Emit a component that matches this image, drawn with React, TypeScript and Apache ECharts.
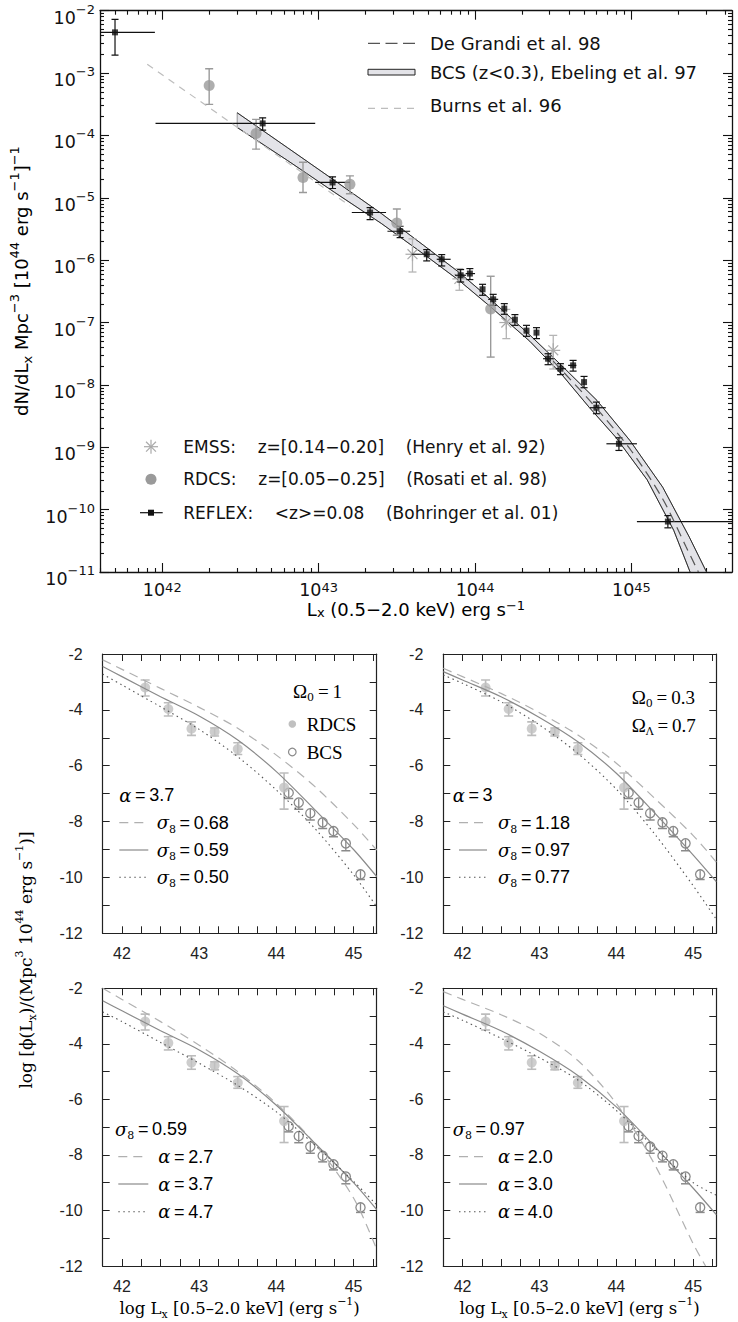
import React, { useEffect, useRef } from "react";
import * as echarts from "echarts";

// ================= TOP PANEL DATA (log10 Lx [erg/s], log10 dN/dLx) =================
const reflexLogL = [41.698, 42.642, 43.089, 43.329, 43.521, 43.691, 43.787, 43.908, 43.967, 44.048, 44.116, 44.187, 44.255, 44.329, 44.393, 44.467, 44.546, 44.627, 44.697, 44.776, 44.92, 45.233];
const reflexLogN = [-2.347, -3.807, -4.754, -5.236, -5.536, -5.905, -5.986, -6.242, -6.215, -6.467, -6.628, -6.777, -6.954, -7.13, -7.162, -7.58, -7.74, -7.687, -7.955, -8.366, -8.944, -10.191];
const reflexErrHi = [-2.138, -3.717, -4.664, -5.156, -5.456, -5.83, -5.911, -6.151, -6.135, -6.387, -6.548, -6.697, -6.873, -7.045, -7.082, -7.5, -7.66, -7.607, -7.864, -8.276, -8.848, -10.095];
const reflexErrLo = [-2.711, -3.915, -4.851, -5.349, -5.637, -6.012, -6.093, -6.35, -6.311, -6.563, -6.724, -6.868, -7.045, -7.221, -7.258, -7.676, -7.836, -7.779, -8.045, -8.462, -9.051, -10.292];
const reflexBinLo = [41.605, 41.957, 42.978, 43.212, 43.44, 43.595, 43.755, 43.872, 43.94, null, 44.084, null, null, null, null, 44.435, 44.516, 44.595, null, 44.734, 44.84, 45.035];
const reflexBinHi = [41.953, 42.978, 43.2, 43.431, 43.585, 43.744, 43.844, 43.942, 44.0, null, 44.148, null, null, null, null, 44.503, 44.58, 44.648, null, 44.836, 45.035, 45.643];

const rdcsLogL = [42.3, 42.6, 42.9, 43.2, 43.5, 44.1];
const rdcsLogN = [-3.2, -3.968, -4.674, -4.782, -5.403, -6.783];
const rdcsErrHi = [-2.93, -3.743, -4.43, -4.648, -5.18, -6.258];
const rdcsErrLo = [-3.502, -4.22, -4.915, -4.935, -5.6, -7.554];

const emssLogL = [43.6, 43.9, 44.2, 44.5];
const emssLogN = [-5.905, -6.3, -7.0, -7.446];
const emssErrHi = [-5.66, -6.135, -6.79, -7.206];
const emssErrLo = [-6.19, -6.483, -7.258, -7.745];

const bcsBandUpperL = [42.479, 42.8, 43.1, 43.4, 43.67, 43.9, 44.1, 44.35, 44.55, 44.78, 44.99, 45.2, 45.37, 45.48];
const bcsBandUpperN = [-3.636, -4.195, -4.72, -5.25, -5.76, -6.2, -6.63, -7.2, -7.68, -8.25, -8.89, -9.64, -10.44, -11.0];
const bcsBandLowerL = [42.479, 42.8, 43.1, 43.4, 43.67, 43.9, 44.1, 44.35, 44.55, 44.73, 44.9, 45.1, 45.27, 45.375];
const bcsBandLowerN = [-3.872, -4.4, -4.91, -5.41, -5.9, -6.33, -6.75, -7.3, -7.82, -8.36, -8.84, -9.52, -10.33, -11.0];

const deGrandiL = [44.5, 44.75, 45.0, 45.2, 45.35, 45.428];
const deGrandiN = [-7.62, -8.3, -9.06, -9.83, -10.6, -11.0];

const burnsL = [41.904, 42.84, 43.2];
const burnsN = [-2.86, -4.5, -5.13];

const topXMajor = [42, 43, 44, 45];

// ================= BOTTOM PANELS DATA (log10 Lx, log10 phi) =================
const panelLogL = [41.75, 42, 42.5, 43, 43.5, 44, 44.5, 45, 45.3];
const om1Sigma068 = [-2.21, -2.55, -3.23, -3.91, -4.66, -5.62, -6.75, -8.1, -9.02];
const om1Sigma059Alpha37 = [-2.45, -2.81, -3.53, -4.22, -5.08, -6.21, -7.58, -9.0, -9.97];
const om1Sigma050 = [-2.72, -3.11, -3.89, -4.7, -5.68, -6.87, -8.25, -9.9, -11.05];
const lamSigma118 = [-2.51, -2.81, -3.41, -4.1, -4.9, -5.91, -7.17, -8.5, -9.45];
const lamSigma097Alpha30 = [-2.63, -2.93, -3.53, -4.27, -5.14, -6.27, -7.7, -9.2, -10.15];
const lamSigma077 = [-2.75, -3.05, -3.71, -4.54, -5.56, -6.84, -8.45, -10.3, -11.5];
const om1Alpha27 = [-2.0, -2.4, -3.2, -4.05, -5.0, -6.15, -7.6, -9.55, -11.4];
const om1Alpha47 = [-2.85, -3.2, -3.95, -4.7, -5.5, -6.45, -7.65, -8.95, -9.8];
const lamAlpha20L = [41.75, 42, 42.5, 43, 43.5, 44, 44.5, 45, 45.16];
const lamAlpha20 = [-2.12, -2.4, -2.95, -3.62, -4.6, -6.15, -8.35, -11.2, -12.0];
const lamAlpha40 = [-2.85, -3.15, -3.8, -4.5, -5.3, -6.4, -7.75, -9.0, -9.45];

const bcsLogL = [44.16, 44.29, 44.44, 44.6, 44.74, 44.9, 45.09];
const bcsLogPhi = [-6.97, -7.32, -7.7, -8.03, -8.34, -8.78, -9.89];
const bcsErrHi = [-6.82, -7.17, -7.55, -7.88, -8.19, -8.63, -9.74];
const bcsErrLo = [-7.17, -7.56, -7.94, -8.25, -8.54, -9.04, -10.07];

// ================= helpers =================
const INK = "#111";
const FRAME = { color: INK, width: 1.3 };
const SANS = "DejaVu Sans";
const SERIF = "DejaVu Serif";
const NB = "\u00a0";
const SP4 = NB + NB + NB + NB;

function logMinors(lo: number, hi: number, fromDecade: number, toDecade: number) {
  const out: number[] = [];
  for (let n = fromDecade; n <= toDecade; n++) {
    for (let k = 2; k <= 9; k++) {
      const v = n + Math.log10(k);
      if (v > lo && v < hi) out.push(v);
    }
  }
  return out;
}

function supText(v: number) {
  const n = Math.round(v);
  return n < 0 ? "\u2212" + -n : String(n);
}

const tickRichY = {
  b: { fontSize: 17.5, fontFamily: SANS, lineHeight: 24, verticalAlign: "bottom", color: INK },
  s: { fontSize: 13, fontFamily: SANS, lineHeight: 12, verticalAlign: "top", color: INK },
};
const tickRichX = {
  b: { fontSize: 17.5, fontFamily: SANS, lineHeight: 18, verticalAlign: "bottom", color: INK },
  s: { fontSize: 13, fontFamily: SANS, lineHeight: 6, verticalAlign: "top", color: INK },
};

function seg(x1: number, y1: number, x2: number, y2: number, color: string, lw: number) {
  return { type: "line", shape: { x1, y1, x2, y2 }, style: { stroke: color, lineWidth: lw } };
}

function errorBars(xi: number, yi: number, xs: number[], ys: number[], hi: number[], lo: number[], color: string, lw: number, capHalf: number, binLo?: (number | null)[], binHi?: (number | null)[], binColor?: string) {
  return {
    type: "custom",
    xAxisIndex: xi,
    yAxisIndex: yi,
    clip: true,
    silent: true,
    data: xs.map((x, i) => [x, ys[i]]),
    renderItem: (params: any, api: any) => {
      const i = params.dataIndex;
      const a = api.coord([xs[i], hi[i]]);
      const b = api.coord([xs[i], lo[i]]);
      const ch: any[] = [
        seg(a[0], a[1], b[0], b[1], color, lw),
        seg(a[0] - capHalf, a[1], a[0] + capHalf, a[1], color, lw),
        seg(b[0] - capHalf, b[1], b[0] + capHalf, b[1], color, lw),
      ];
      if (binLo && binHi && binLo[i] != null && binHi[i] != null) {
        const p = api.coord([binLo[i], ys[i]]);
        const q = api.coord([binHi[i], ys[i]]);
        ch.push(seg(p[0], p[1], q[0], q[1], binColor || color, lw));
      }
      return { type: "group", children: ch };
    },
  };
}

function asteriskEls(cx: number, cy: number, r: number, color: string, lw: number) {
  const out: any[] = [];
  for (let k = 0; k < 4; k++) {
    const ang = (k * Math.PI) / 4;
    out.push(seg(cx - r * Math.cos(ang), cy - r * Math.sin(ang), cx + r * Math.cos(ang), cy + r * Math.sin(ang), color, lw));
  }
  return out;
}

const zip = (xs: number[], ys: number[]) => xs.map((x, i) => [x, ys[i]]);

// ================= option =================
function buildOption() {
  const TOP_XMIN = 41.602;
  const TOP_XMAX = 45.643;
  const topXMinor = logMinors(TOP_XMIN, TOP_XMAX, 41, 45);
  const topYMinor = logMinors(-11, -2, -11, -3);

  const grids: any[] = [
    { left: 100, top: 10.7, width: 632, height: 561.3 },
    { left: 102.7, top: 654, width: 274, height: 279.3 },
    { left: 443.3, top: 654, width: 273, height: 279.3 },
    { left: 102.7, top: 988.3, width: 274, height: 277.7 },
    { left: 443.3, top: 988.3, width: 273, height: 277.7 },
  ].map((g) => ({ ...g, containLabel: false, outerBoundsMode: "none", show: false }));

  const noSplit = { show: false };
  const xAxes: any[] = [];
  const yAxes: any[] = [];

  // --- top panel axes (0..3) ---
  const topX = (position: string, minor: boolean, labels: boolean) => ({
    gridIndex: 0, type: "value", min: TOP_XMIN, max: TOP_XMAX, position,
    axisLine: { show: !minor, onZero: false, lineStyle: FRAME },
    axisTick: { show: true, inside: true, length: minor ? 4 : 9, customValues: minor ? topXMinor : topXMajor, lineStyle: { color: INK, width: 1.1 } },
    axisLabel: labels
      ? { show: true, customValues: topXMajor, margin: 9, formatter: (v: number) => `{b|10}{s|${supText(v)}}`, rich: tickRichX }
      : { show: false },
    splitLine: noSplit,
  });
  xAxes.push(topX("bottom", false, true), topX("bottom", true, false), topX("top", false, false), topX("top", true, false));
  const topY = (position: string, minor: boolean, labels: boolean) => ({
    gridIndex: 0, type: "value", min: -11, max: -2, position,
    ...(minor ? {} : { interval: 1 }),
    axisLine: { show: !minor, onZero: false, lineStyle: FRAME },
    axisTick: minor
      ? { show: true, inside: true, length: 4, customValues: topYMinor, lineStyle: { color: INK, width: 1.1 } }
      : { show: true, inside: true, length: 9, lineStyle: { color: INK, width: 1.1 } },
    axisLabel: labels
      ? { show: true, margin: 5, padding: [8, 0, 0, 0], formatter: (v: number) => `{b|10}{s|${supText(v)}}`, rich: tickRichY }
      : { show: false },
    splitLine: noSplit,
  });
  yAxes.push(topY("left", false, true), topY("left", true, false), topY("right", false, false), topY("right", true, false));

  // --- bottom panels axes ---
  const tickLbl = { fontFamily: "Liberation Sans", fontSize: 16, color: "#222" };
  for (let p = 0; p < 4; p++) {
    const g = p + 1;
    const bx = (position: string, labels: boolean) => ({
      gridIndex: g, type: "value", min: 41.75, max: 45.3, interval: 0.25, position,
      axisLine: { show: true, onZero: false, lineStyle: { color: "#222", width: 1.2 } },
      axisTick: { show: true, inside: true, length: 7, lineStyle: { color: "#222", width: 1 } },
      axisLabel: labels
        ? { show: true, margin: 12, ...tickLbl, formatter: (v: number) => (Math.abs(v - Math.round(v)) < 1e-6 ? String(Math.round(v)) : "") }
        : { show: false },
      splitLine: noSplit,
    });
    const by = (position: string, labels: boolean) => ({
      gridIndex: g, type: "value", min: -12, max: -2, interval: 1, position,
      axisLine: { show: true, onZero: false, lineStyle: { color: "#222", width: 1.2 } },
      axisTick: { show: true, inside: true, length: 7, lineStyle: { color: "#222", width: 1 } },
      axisLabel: labels
        ? { show: true, margin: 20, ...tickLbl, formatter: (v: number) => (Math.round(v) % 2 === 0 ? String(Math.round(v)) : "") }
        : { show: false },
      splitLine: noSplit,
    });
    xAxes.push(bx("bottom", true), bx("top", false));
    yAxes.push(by("left", true), by("right", false));
  }

  const series: any[] = [];

  // --- top panel series ---
  series.push({
    type: "custom", xAxisIndex: 0, yAxisIndex: 0, silent: true, clip: true,
    data: [[bcsBandUpperL[0], bcsBandUpperN[0]]],
    renderItem: (_p: any, api: any) => {
      const up = bcsBandUpperL.map((x, i) => api.coord([x, bcsBandUpperN[i]]));
      const lo = bcsBandLowerL.map((x, i) => api.coord([x, bcsBandLowerN[i]]));
      return {
        type: "group",
        children: [
          { type: "polygon", shape: { points: up.concat(lo.slice().reverse()) }, style: { fill: "#e3e3e8", stroke: "#555", lineWidth: 0.6 } },
          { type: "polyline", shape: { points: up }, style: { fill: "none", stroke: "#222", lineWidth: 0.9 } },
          { type: "polyline", shape: { points: lo }, style: { fill: "none", stroke: "#222", lineWidth: 0.9 } },
        ],
      };
    },
  });
  series.push({
    type: "line", xAxisIndex: 0, yAxisIndex: 0, data: zip(burnsL, burnsN), symbol: "none", silent: true,
    lineStyle: { color: "#bdbdbd", width: 1.2, type: [7, 6] },
  });
  series.push({
    type: "line", xAxisIndex: 0, yAxisIndex: 0, data: zip(deGrandiL, deGrandiN), symbol: "none", silent: true, smooth: 0.3,
    lineStyle: { color: "#555", width: 1.2, type: [10, 6] },
  });
  series.push(errorBars(0, 0, rdcsLogL, rdcsLogN, rdcsErrHi, rdcsErrLo, "#9a9a9a", 1.4, 4));
  series.push({
    type: "scatter", xAxisIndex: 0, yAxisIndex: 0, data: zip(rdcsLogL, rdcsLogN), symbol: "circle", symbolSize: 11, silent: true,
    itemStyle: { color: "#9a9a9a" },
  });
  series.push(errorBars(0, 0, emssLogL, emssLogN, emssErrHi, emssErrLo, "#b5b5b5", 1.3, 4));
  series.push({
    type: "custom", xAxisIndex: 0, yAxisIndex: 0, silent: true,
    data: zip(emssLogL, emssLogN),
    renderItem: (params: any, api: any) => {
      const c = api.coord([emssLogL[params.dataIndex], emssLogN[params.dataIndex]]);
      return { type: "group", children: asteriskEls(c[0], c[1], 7, "#aaaaaa", 1.2) };
    },
  });
  series.push(errorBars(0, 0, reflexLogL, reflexLogN, reflexErrHi, reflexErrLo, "#111", 1.2, 3.5, reflexBinLo, reflexBinHi, "#111"));
  series.push({
    type: "scatter", xAxisIndex: 0, yAxisIndex: 0, data: zip(reflexLogL, reflexLogN), symbol: "rect", symbolSize: 6, silent: true,
    itemStyle: { color: "#111" },
  });

  // --- bottom panels series ---
  const panelCurves = [
    { dashedX: panelLogL, dashed: om1Sigma068, solid: om1Sigma059Alpha37, dotted: om1Sigma050 },
    { dashedX: panelLogL, dashed: lamSigma118, solid: lamSigma097Alpha30, dotted: lamSigma077 },
    { dashedX: panelLogL, dashed: om1Alpha27, solid: om1Sigma059Alpha37, dotted: om1Alpha47 },
    { dashedX: lamAlpha20L, dashed: lamAlpha20, solid: lamSigma097Alpha30, dotted: lamAlpha40 },
  ];
  panelCurves.forEach((pc, p) => {
    const xi = 4 + 2 * p;
    const yi = 4 + 2 * p;
    series.push({
      type: "line", xAxisIndex: xi, yAxisIndex: yi, data: zip(pc.dashedX, pc.dashed), symbol: "none", smooth: 0.3, silent: true, clip: true,
      lineStyle: { color: "#b0b0b0", width: 1.2, type: [9, 6] },
    });
    series.push({
      type: "line", xAxisIndex: xi, yAxisIndex: yi, data: zip(panelLogL, pc.solid), symbol: "none", smooth: 0.3, silent: true, clip: true,
      lineStyle: { color: "#8a8a8a", width: 1.2 },
    });
    series.push({
      type: "line", xAxisIndex: xi, yAxisIndex: yi, data: zip(panelLogL, pc.dotted), symbol: "none", smooth: 0.3, silent: true, clip: true,
      lineStyle: { color: "#555", width: 1.1, type: [1.5, 3.5] },
    });
    series.push(errorBars(xi, yi, rdcsLogL, rdcsLogN, rdcsErrHi, rdcsErrLo, "#bcbcbc", 1.6, 4.5));
    series.push({
      type: "scatter", xAxisIndex: xi, yAxisIndex: yi, data: zip(rdcsLogL, rdcsLogN), symbol: "circle", symbolSize: 10, silent: true,
      itemStyle: { color: "#c0c0c0" },
    });
    series.push({
      type: "custom", xAxisIndex: xi, yAxisIndex: yi, silent: true, clip: true,
      data: zip(bcsLogL, bcsLogPhi),
      renderItem: (params: any, api: any) => {
        const i = params.dataIndex;
        const c = api.coord([bcsLogL[i], bcsLogPhi[i]]);
        const a = api.coord([bcsLogL[i], bcsErrHi[i]]);
        const b = api.coord([bcsLogL[i], bcsErrLo[i]]);
        return {
          type: "group",
          children: [
            { type: "circle", shape: { cx: c[0], cy: c[1], r: 4.6 }, style: { fill: "none", stroke: "#8a8a8a", lineWidth: 1.3 } },
            seg(a[0], a[1], b[0], b[1], "#8a8a8a", 1.3),
            seg(b[0] - 4.5, b[1], b[0] + 4.5, b[1], "#8a8a8a", 1.5),
          ],
        };
      },
    });
  });

  // ================= graphic (titles, legends) =================
  const g: any[] = [];
  const txt = (x: number, y: number, text: string, size: number, family: string, extra: any = {}) => ({
    type: "text", x, y, silent: true,
    style: { text, fontSize: size, fontFamily: family, fill: INK, verticalAlign: "middle", align: "left", ...extra },
  });

  const sansRich = {
    n: { fontSize: 18, fontFamily: SANS, lineHeight: 26, verticalAlign: "middle", color: INK },
    sup: { fontSize: 13, fontFamily: SANS, lineHeight: 13, verticalAlign: "top", color: INK },
    sub: { fontSize: 13, fontFamily: SANS, lineHeight: 17, verticalAlign: "bottom", color: INK },
  };
  const titleRich = {
    n: { fontSize: 18, fontFamily: SANS, lineHeight: 20, verticalAlign: "middle", color: INK },
    sup: { fontSize: 13, fontFamily: SANS, lineHeight: 10, verticalAlign: "top", color: INK },
    sub: { fontSize: 13, fontFamily: SANS, lineHeight: 12, verticalAlign: "bottom", color: INK },
  };
  // top x title
  g.push({
    type: "text", x: 416, y: 609, silent: true,
    style: { text: "{n|L}{sub|x}{n| (0.5\u22122.0 keV) erg s}{sup|\u22121}", rich: titleRich, align: "center", verticalAlign: "middle" },
  });
  // top y title
  g.push({
    type: "text", x: 21, y: 281, rotation: Math.PI / 2, silent: true,
    style: {
      text: "{n|dN/dL}{sub|x}{n| Mpc}{sup|\u22123}{n| [10}{sup|44}{n| erg s}{sup|\u22121}{n|]}{sup|\u22121}",
      rich: sansRich, align: "center", verticalAlign: "middle",
    },
  });

  // top legend (upper right)
  g.push({ type: "line", silent: true, shape: { x1: 368, y1: 43.3, x2: 415, y2: 43.3 }, style: { stroke: "#555", lineWidth: 1.2, lineDash: [12, 5.5] } });
  g.push({ type: "rect", silent: true, shape: { x: 368, y: 69.3, width: 47, height: 5.7 }, style: { fill: "#e3e3e8", stroke: "#222", lineWidth: 1 } });
  g.push({ type: "line", silent: true, shape: { x1: 368, y1: 108.3, x2: 415, y2: 108.3 }, style: { stroke: "#bdbdbd", lineWidth: 1.2, lineDash: [7, 6] } });
  g.push(txt(430, 43, "De Grandi et al. 98", 18, SANS));
  g.push(txt(430, 72, "BCS (z<0.3), Ebeling et al. 97", 18, SANS));
  g.push(txt(430, 105, "Burns et al. 96", 18, SANS));

  // top legend (lower left)
  asteriskEls(151, 446.7, 7, "#aaaaaa", 1.2).forEach((e) => g.push({ ...e, silent: true }));
  g.push({ type: "circle", silent: true, shape: { cx: 151, cy: 479.3, r: 5.5 }, style: { fill: "#9a9a9a" } });
  g.push({ type: "line", silent: true, shape: { x1: 140, y1: 512.7, x2: 162.7, y2: 512.7 }, style: { stroke: INK, lineWidth: 1.2 } });
  g.push({ type: "rect", silent: true, shape: { x: 148, y: 509.7, width: 6, height: 6 }, style: { fill: INK } });
  g.push(txt(183.3, 446.7, "EMSS:" + SP4 + "z=[0.14\u22120.20]" + SP4 + "(Henry et al. 92)", 17, SANS));
  g.push(txt(183.3, 479.3, "RDCS:" + SP4 + "z=[0.05\u22120.25]" + SP4 + "(Rosati et al. 98)", 17, SANS));
  g.push(txt(183.3, 512.7, "REFLEX:" + SP4 + "<z>=0.08" + SP4 + "(Bohringer et al. 01)", 17, SANS));

  // bottom panels texts
  const greekRich = {
    g: { fontFamily: SERIF, fontStyle: "italic", fontSize: 18, lineHeight: 24, verticalAlign: "middle", color: INK },
    i: { fontFamily: SERIF, fontSize: 11, lineHeight: 16, verticalAlign: "bottom", color: INK },
    t: { fontFamily: "Liberation Sans", fontSize: 18, lineHeight: 24, verticalAlign: "middle", color: INK },
    r: { fontFamily: "Liberation Serif", fontSize: 19, lineHeight: 24, verticalAlign: "middle", color: INK },
  };
  const rtxt = (x: number, y: number, text: string) => ({
    type: "text", x, y, silent: true, style: { text, rich: greekRich, align: "left", verticalAlign: "middle" },
  });
  const sig = (v: string) => `{g|\u03c3}{i|8}{t|\u2009=\u2009${v}}`;
  const alp = (v: string) => `{g|\u03b1}{t|\u2009=\u2009${v}}`;
  const sampleRows = (x1: number, x2: number, ys: number[]) => {
    g.push({ type: "line", silent: true, shape: { x1, y1: ys[0], x2, y2: ys[0] }, style: { stroke: "#b0b0b0", lineWidth: 1.2, lineDash: [9, 6] } });
    g.push({ type: "line", silent: true, shape: { x1, y1: ys[1], x2, y2: ys[1] }, style: { stroke: "#8a8a8a", lineWidth: 1.2 } });
    g.push({ type: "line", silent: true, shape: { x1, y1: ys[2], x2, y2: ys[2] }, style: { stroke: "#555", lineWidth: 1.1, lineDash: [1.5, 3.5] } });
  };

  // panel A
  g.push(rtxt(293, 691, "{r|\u03a9}{i|0}{r|\u2009=\u20091}"));
  g.push({ type: "circle", silent: true, shape: { cx: 292.3, cy: 724, r: 3.8 }, style: { fill: "#c0c0c0" } });
  g.push({ type: "circle", silent: true, shape: { cx: 292.3, cy: 752, r: 3.8 }, style: { fill: "none", stroke: "#8a8a8a", lineWidth: 1.2 } });
  g.push(rtxt(306.7, 724, "{r|RDCS}"));
  g.push(rtxt(306.7, 752, "{r|BCS}"));
  g.push(rtxt(119.3, 795, alp("3.7")));
  sampleRows(119.3, 148.3, [822.7, 850, 877.3]);
  g.push(rtxt(156.7, 822.7, sig("0.68")));
  g.push(rtxt(156.7, 850, sig("0.59")));
  g.push(rtxt(156.7, 877.3, sig("0.50")));

  // panel B
  g.push(rtxt(631.7, 697, "{r|\u03a9}{i|0}{r|\u2009=\u20090.3}"));
  g.push(rtxt(631.7, 725, "{r|\u03a9}{i|\u039b}{r|\u2009=\u20090.7}"));
  g.push(rtxt(452.7, 795, alp("3")));
  sampleRows(459, 487, [822.7, 850, 877.3]);
  g.push(rtxt(498, 822.7, sig("1.18")));
  g.push(rtxt(498, 850, sig("0.97")));
  g.push(rtxt(498, 877.3, sig("0.77")));

  // panel C
  g.push(rtxt(115, 1129.3, sig("0.59")));
  sampleRows(118.3, 148.3, [1156.7, 1184, 1211.7]);
  g.push(rtxt(158.3, 1156.7, alp("2.7")));
  g.push(rtxt(158.3, 1184, alp("3.7")));
  g.push(rtxt(158.3, 1211.7, alp("4.7")));

  // panel D
  g.push(rtxt(452.7, 1129.3, sig("0.97")));
  sampleRows(459, 487, [1156.7, 1184, 1211.7]);
  g.push(rtxt(498, 1156.7, alp("2.0")));
  g.push(rtxt(498, 1184, alp("3.0")));
  g.push(rtxt(498, 1211.7, alp("4.0")));

  // bottom titles
  const serifRich = {
    r: { fontFamily: SERIF, fontSize: 16.5, lineHeight: 24, verticalAlign: "middle", color: INK },
    sup: { fontFamily: SERIF, fontSize: 11, lineHeight: 12, verticalAlign: "top", color: INK },
    sub: { fontFamily: SERIF, fontSize: 11, lineHeight: 16, verticalAlign: "bottom", color: INK },
  };
  const xTitle = "{r|log L}{sub|x}{r| [0.5\u20132.0 keV] (erg s}{sup|\u22121}{r|)}";
  g.push({ type: "text", x: 239.7, y: 1308, silent: true, style: { text: xTitle, rich: serifRich, align: "center", verticalAlign: "middle" } });
  g.push({ type: "text", x: 579.7, y: 1308, silent: true, style: { text: xTitle, rich: serifRich, align: "center", verticalAlign: "middle" } });
  g.push({
    type: "text", x: 26, y: 960, rotation: Math.PI / 2, silent: true,
    style: {
      text: "{r|log [\u03d5(L}{sub|x}{r|)/(Mpc}{sup|3}{r| 10}{sup|44}{r| erg s}{sup|\u22121}{r|)]}",
      rich: { ...serifRich, r: { ...serifRich.r, fontSize: 17 } }, align: "center", verticalAlign: "middle",
    },
  });

  return {
    animation: false,
    backgroundColor: "#ffffff",
    grid: grids,
    xAxis: xAxes,
    yAxis: yAxes,
    series,
    graphic: { elements: g },
  };
}

export default function App() {
  const ref = useRef<HTMLDivElement>(null);
  useEffect(() => {
    if (!ref.current) return;
    const chart = echarts.init(ref.current, null, { renderer: "svg", width: 738, height: 1322 });
    chart.setOption(buildOption() as any);
    return () => chart.dispose();
  }, []);
  return (
    <div
      ref={ref}
      style={{ position: "absolute", left: 0, top: 0, width: 738, height: 1322, background: "#fff" }}
    />
  );
}
